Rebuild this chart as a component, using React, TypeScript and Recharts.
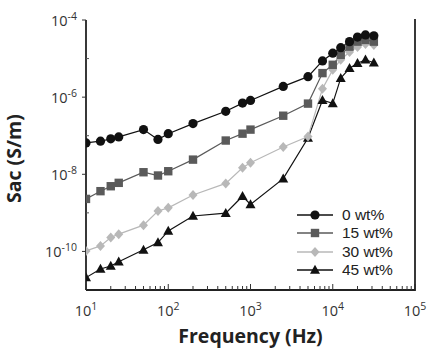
import React from 'react'
import { LineChart, Line, XAxis, YAxis } from 'recharts'

// frequency (Hz) and ac conductivity (S/m)
const FREQ = [10, 15, 20, 25, 50, 75, 100, 200, 500, 800, 1000, 2500, 5000, 7500, 10000, 12500, 16000, 20000, 25000, 31600]
const WT0 = [6.5e-8, 7.2e-8, 8.3e-8, 9.3e-8, 1.44e-7, 8e-8, 1.13e-7, 2.06e-7, 4.3e-7, 7.0e-7, 8.2e-7, 1.9e-6, 3.4e-6, 8.7e-6, 1.38e-5, 1.92e-5, 2.75e-5, 3.6e-5, 4.1e-5, 3.9e-5]
const WT15 = [2.3e-9, 3.65e-9, 4.9e-9, 6.0e-9, 1.13e-8, 9.3e-9, 1.2e-8, 2.4e-8, 7.5e-8, 1.13e-7, 1.44e-7, 3.3e-7, 6.8e-7, 4.2e-6, 6.9e-6, 1.25e-5, 2.04e-5, 2.75e-5, 3.04e-5, 2.75e-5]
const WT30 = [1.03e-10, 1.39e-10, 2.3e-10, 2.8e-10, 4.8e-10, 1.12e-9, 1.35e-9, 2.9e-9, 5.8e-9, 1.47e-8, 2.0e-8, 5.1e-8, 9.5e-8, 1.66e-6, 5.1e-6, 9.3e-6, 1.48e-5, 2.0e-5, 2.4e-5, 2.25e-5]
const WT45 = [2.1e-11, 3.5e-11, 4.2e-11, 5.4e-11, 1.1e-10, 1.7e-10, 3.4e-10, 8.3e-10, 9.8e-10, 2.7e-9, 1.66e-9, 7.7e-9, 8.7e-8, 8.3e-7, 6.9e-7, 3.1e-6, 5.6e-6, 7.6e-6, 9.3e-6, 7.8e-6]

const X_TICKS = [1, 2, 3, 4].flatMap(d => [1, 2, 3, 4, 5, 6, 7, 8, 9].map(m => m * 10 ** d)).concat([1e5])
const Y_TICKS = [-11, -10, -9, -8, -7, -6, -5, -4].map(e => 10 ** e)

type Shape = 'circle' | 'square' | 'diamond' | 'triangle'

const SERIES: { key: string; name: string; color: string; shape: Shape }[] = [
  { key: 'wt0', name: '0 wt%', color: '#111', shape: 'circle' },
  { key: 'wt15', name: '15 wt%', color: '#5a5a5a', shape: 'square' },
  { key: 'wt30', name: '30 wt%', color: '#b8b8b8', shape: 'diamond' },
  { key: 'wt45', name: '45 wt%', color: '#111', shape: 'triangle' },
]

const data = FREQ.map((f, i) => ({ f, wt0: WT0[i], wt15: WT15[i], wt30: WT30[i], wt45: WT45[i] }))

const FONT = '"Open Sans", "Noto Sans", sans-serif'

function marker(shape: Shape, cx: number, cy: number, color: string, key?: number) {
  if (shape === 'circle') return <circle key={key} cx={cx} cy={cy} r={4.6} fill={color} />
  if (shape === 'square') return <rect key={key} x={cx - 4.2} y={cy - 4.2} width={8.4} height={8.4} fill={color} />
  if (shape === 'diamond')
    return <polygon key={key} points={`${cx},${cy - 5} ${cx + 4.5},${cy} ${cx},${cy + 5} ${cx - 4.5},${cy}`} fill={color} />
  return <polygon key={key} points={`${cx},${cy - 5.2} ${cx + 5},${cy + 3.8} ${cx - 5},${cy + 3.8}`} fill={color} />
}

const makeDot = (shape: Shape, color: string) => (p: any) => {
  if (p.cx == null || p.cy == null) return <g key={p.index} />
  return marker(shape, p.cx, p.cy, color, p.index)
}

const XTick = (props: any) => {
  const { x, y, payload } = props
  const lg = Math.log10(payload.value)
  const exp = Math.round(lg)
  const major = Math.abs(lg - exp) < 1e-6
  return (
    <g>
      <line x1={x} x2={x} y1={y} y2={y - (major ? 6 : 4)} stroke="#333" strokeWidth={1} />
      {major && (
        <text x={x} y={y + 26} textAnchor="middle" fontSize={14.5} fill="#333" fontFamily={FONT}>
          10<tspan dy={-6} fontSize={10.5}>{exp}</tspan>
        </text>
      )}
    </g>
  )
}

const YTick = (props: any) => {
  const { x, y, payload } = props
  const exp = Math.round(Math.log10(payload.value))
  if (exp === -11) return <g />
  const major = exp % 2 === 0
  return (
    <g>
      {major ? (
        <line x1={x - 4} x2={x} y1={y} y2={y} stroke="#333" strokeWidth={1} />
      ) : (
        <line x1={x} x2={x + 3} y1={y} y2={y} stroke="#555" strokeWidth={1} />
      )}
      {major && (
        <text x={x - 9} y={y + 6} textAnchor="end" fontSize={14.5} fill="#333" fontFamily={FONT}>
          10<tspan dy={-6} fontSize={10.5}>{exp}</tspan>
        </text>
      )}
    </g>
  )
}

const LegendBox = () => (
  <div style={{ position: 'absolute', left: 297, top: 206, fontFamily: '"Liberation Sans", Arial, sans-serif', fontSize: 15.5, color: '#222' }}>
    {SERIES.map(s => (
      <div key={s.key} style={{ display: 'flex', alignItems: 'center', height: 18.3, lineHeight: '18px' }}>
        <svg width={36} height={14} style={{ marginRight: 9 }}>
          <line x1={0} x2={36} y1={7} y2={7} stroke={s.color} strokeWidth={1.3} />
          {marker(s.shape, 18, 7, s.color)}
        </svg>
        <span>{s.name}</span>
      </div>
    ))}
  </div>
)

export default function App() {
  return (
    <div style={{ position: 'absolute', left: 0, top: 0, width: 431, height: 348, background: '#fff' }}>
      <LineChart width={431} height={348} data={data} margin={{ top: 20, right: 16, left: 0, bottom: 0 }}>
        <XAxis
          dataKey="f"
          type="number"
          scale="log"
          domain={[10, 100000]}
          ticks={X_TICKS}
          interval={0}
          allowDataOverflow
          height={58}
          tickSize={0}
          tickMargin={0}
          tickLine={false}
          tick={<XTick />}
          axisLine={{ stroke: '#222', strokeWidth: 1.8 }}
          label={{ value: 'Frequency (Hz)', position: 'insideBottom', offset: 5, fontSize: 19.5, fontWeight: 700, fill: '#222', fontFamily: FONT }}
        />
        <XAxis
          xAxisId="top"
          orientation="top"
          dataKey="f"
          type="number"
          scale="log"
          domain={[10, 100000]}
          allowDataOverflow
          height={0}
          tick={false}
          tickLine={false}
          axisLine={{ stroke: '#222', strokeWidth: 1.8 }}
        />
        <YAxis
          type="number"
          scale="log"
          domain={[1e-11, 1e-4]}
          ticks={Y_TICKS}
          interval={0}
          allowDataOverflow
          width={86}
          tickSize={0}
          tickMargin={0}
          tickLine={false}
          tick={<YTick />}
          axisLine={{ stroke: '#222', strokeWidth: 1.8 }}
          label={{ value: 'Sac (S/m)', angle: -90, position: 'insideLeft', offset: 14, dy: 48, fontSize: 19.5, fontWeight: 700, fill: '#222', fontFamily: FONT }}
        />
        {[...SERIES].reverse().map(s => (
          <Line
            key={s.key}
            dataKey={s.key}
            stroke={s.color}
            strokeWidth={1.2}
            dot={makeDot(s.shape, s.color)}
            activeDot={false}
            isAnimationActive={false}
          />
        ))}
      </LineChart>
      {/* right edge of the plot frame */}
      <svg width={431} height={348} style={{ position: 'absolute', left: 0, top: 0, pointerEvents: 'none' }}>
        <line x1={415} x2={415} y1={19} y2={291} stroke="#222" strokeWidth={1.8} />
      </svg>
      <LegendBox />
    </div>
  )
}
